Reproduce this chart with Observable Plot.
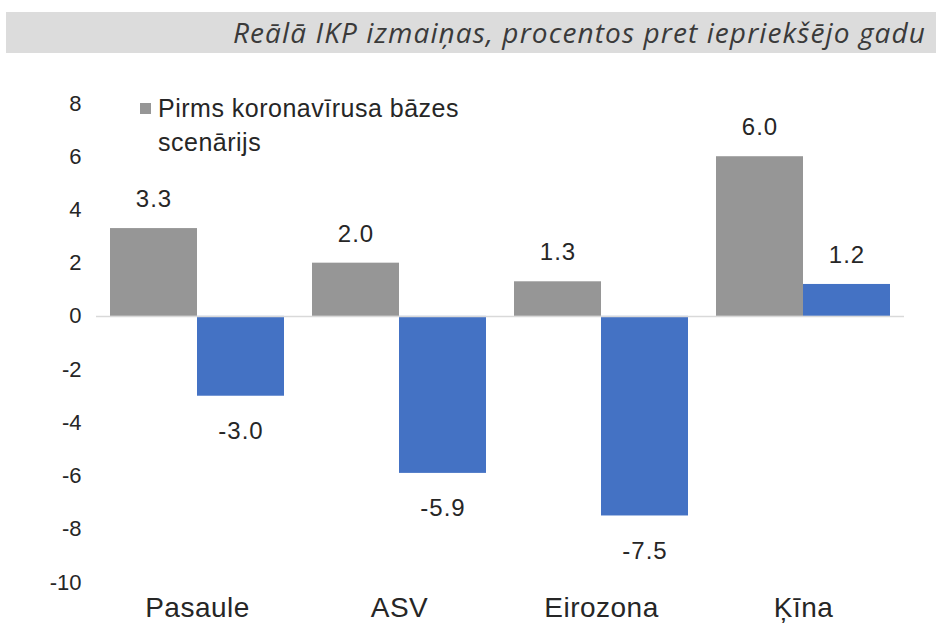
<!DOCTYPE html>
<html>
<head>
<meta charset="utf-8">
<script src="https://cdn.jsdelivr.net/npm/d3@7"></script>
<script src="https://cdn.jsdelivr.net/npm/@observablehq/plot@0.6"></script>
<style>
  html, body { margin: 0; padding: 0; background: #fff; }
  #wrap { position: relative; width: 936px; height: 630px; overflow: hidden; }
  #title {
    position: absolute; left: 6px; top: 12px; width: 930px; height: 41px;
    background: #dcdcdc; box-sizing: border-box; padding-right: 10px;
    text-align: right; font-family: "Open Sans", sans-serif; font-style: italic;
    font-size: 28px; letter-spacing: 1.1px; line-height: 41px; color: #3a3a3a; white-space: nowrap;
  }
  #legend {
    position: absolute; left: 158px; top: 91px; width: 320px;
    font-family: "Liberation Sans", Arial, sans-serif; font-size: 25px; letter-spacing: 0.5px;
    line-height: 34px; color: #262626;
  }
  #legend .sw { position: absolute; left: -18px; top: 12px; width: 11px; height: 11px; background: #969696; }
  #chart { position: absolute; left: 0; top: 60px; }
  #chart svg g[aria-label="text"] text { letter-spacing: 1px; }
  #chart svg g[aria-label="fx-axis tick label"] text { letter-spacing: 0.5px; }
</style>
</head>
<body>
<div id="wrap">
  <div id="title"></div>
  <div id="chart"></div>
  <div id="legend"><span class="sw"></span><span id="legtext"></span></div>
</div>
<script>
const titleText = "Reālā IKP izmaiņas, procentos pret iepriekšējo gadu";
const categories = ["Pasaule", "ASV", "Eirozona", "Ķīna"];
const seriesNames = ["Pirms koronavīrusa bāzes scenārijs", "Koronavīrusa scenārijs"];
const baseValues = [3.3, 2.0, 1.3, 6.0];
const newValues = [-3.0, -5.9, -7.5, 1.2];
const yTicks = [-10, -8, -6, -4, -2, 0, 2, 4, 6, 8];
const colors = ["#969696", "#4472c4"];

document.getElementById("title").textContent = titleText;
document.getElementById("legtext").textContent = seriesNames[0];

const data = [];
categories.forEach((c, i) => {
  data.push({cat: c, series: seriesNames[0], value: baseValues[i]});
  data.push({cat: c, series: seriesNames[1], value: newValues[i]});
});

const chart = Plot.plot({
  width: 936,
  height: 570,
  marginLeft: 95,
  marginRight: 31,
  marginTop: 43,
  marginBottom: 48,
  style: {fontFamily: "'Liberation Sans', Arial, sans-serif", fontSize: "22px", color: "#262626", background: "transparent"},
  fx: {domain: categories, padding: 0, label: null, axis: null},
  x: {domain: seriesNames, paddingInner: 0, paddingOuter: 0.157, axis: null},
  y: {domain: [-10, 8], ticks: yTicks, tickFormat: d => String(d), label: null, tickSize: 0, tickPadding: 15},
  color: {domain: seriesNames, range: colors},
  marks: [
    Plot.axisFx({anchor: "bottom", fontSize: 28, tickSize: 0, tickPadding: 15, label: null}),
    Plot.barY(data, {fx: "cat", x: "series", y: "value", fill: "series"}),
    Plot.ruleY([0], {stroke: "#d9d9d9", strokeWidth: 1.5}),
    Plot.text(data.filter(d => d.value >= 0), {fx: "cat", x: "series", y: "value", text: d => d.value.toFixed(1), dy: -29, fontSize: 24, fill: "#262626"}),
    Plot.text(data.filter(d => d.value < 0), {fx: "cat", x: "series", y: "value", text: d => d.value.toFixed(1), dy: 35, fontSize: 24, fill: "#262626"})
  ]
});
document.getElementById("chart").appendChild(chart);
</script>
</body>
</html>
